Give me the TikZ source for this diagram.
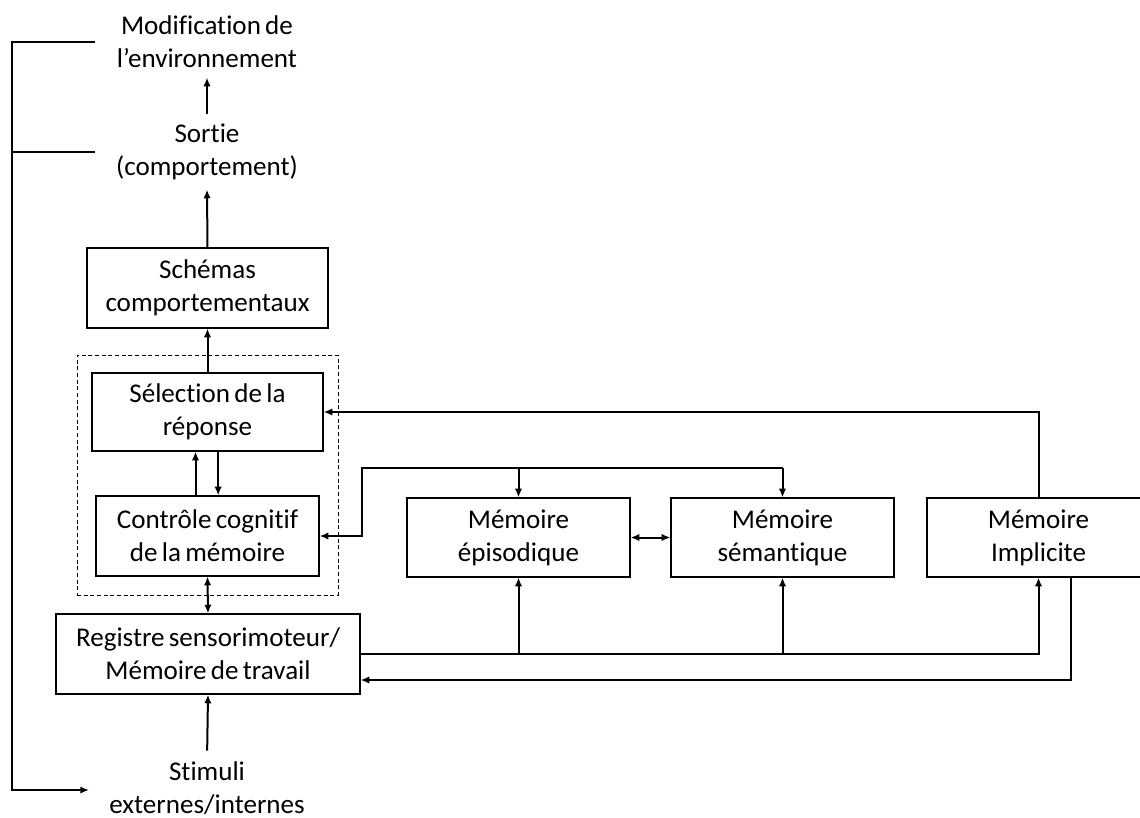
\documentclass[tikz,border=0pt]{standalone}
\usepackage{fontspec}
\setmainfont{Carlito}[Ligatures=NoCommon,WordSpace=0.7]
\usetikzlibrary{arrows.meta}
\newcommand\fsz{\fontsize{20.3}{24.75}\selectfont}
\begin{document}
\begin{tikzpicture}[x=0.75pt,y=-0.75pt,
  box/.style={draw,line width=0.9pt,inner sep=0pt,align=center,font=\fsz},
  lbl/.style={inner sep=7pt,align=center,font=\fsz},
  con/.style={line width=1.5pt},
  arr/.style={con,-{Latex[length=6.5pt,width=5.5pt]}},
  darr/.style={con,{Latex[length=6.5pt,width=5.5pt]}-{Latex[length=6.5pt,width=5.5pt]}}]
\useasboundingbox (0,0) rectangle (1140,818);

% text-only nodes
\node[lbl] (modif) at (207,42) {Modification de\\l’environnement};
\node[lbl] (sortie) at (207,152) {Sortie\\(comportement)};
\node[lbl,inner sep=0pt] (stim) at (207,788) {Stimuli\\externes/internes};

% boxes
\node[box,minimum width=241*0.75pt,minimum height=80*0.75pt] (schemas) at (207.5,288) {Schémas\\comportementaux};
\node[draw,dashed,dash pattern=on 3pt off 2pt,line width=0.7pt,inner sep=0pt,minimum width=261*0.75pt,minimum height=240*0.75pt] (grp) at (207.5,475) {};
\node[box,minimum width=231*0.75pt,minimum height=78*0.75pt] (select) at (207.5,412) {Sélection de la\\réponse};
\node[box,minimum width=223*0.75pt,minimum height=80*0.75pt] (ctrl) at (207.5,536) {Contrôle cognitif\\de la mémoire};
\node[box,minimum width=223*0.75pt,minimum height=79*0.75pt] (epi) at (518.5,537.5) {Mémoire\\épisodique};
\node[box,minimum width=223*0.75pt,minimum height=79*0.75pt] (sem) at (782.5,537.5) {Mémoire\\sémantique};
\node[box,minimum width=223*0.75pt,minimum height=79*0.75pt] (impl) at (1038.5,537.5) {Mémoire\\Implicite};
\node[box,minimum width=304*0.75pt,minimum height=80*0.75pt] (reg) at (208,654) {Registre sensorimoteur/\\Mémoire de travail};

% vertical flow
\draw[arr] (sortie.north) -- (modif.south);
\draw[arr] (schemas.north) -- (sortie.south);
\draw[arr] (select.north) -- (schemas.south);
\draw[arr] ([xshift=-9pt]ctrl.north) -- ([xshift=-9pt]select.south);
\draw[arr] ([xshift=8pt]select.south) -- ([xshift=8pt]ctrl.north);
\draw[darr] (ctrl.south) -- (reg.north);
\draw[arr,shorten <=8pt] (stim.north) -- (reg.south);

% implicit memory to response selection
\draw[arr] (impl.north) |- (select.east);

% top bus to control
\coordinate (b1) at (362,468);
\draw[arr] (sem.north |- b1) -- (b1) |- (ctrl.east);
\draw[arr] (epi.north |- b1) -- (epi.north);
\draw[arr] (sem.north |- b1) -- (sem.north);
\draw[darr] (epi.east) -- (sem.west);

% bottom bus from register
\draw[arr] (reg.east) -| (impl.south);
\draw[arr] (epi.south |- reg.east) -- (epi.south);
\draw[arr] (sem.south |- reg.east) -- (sem.south);
\draw[arr] ([xshift=24pt]impl.south) |- ([yshift=-19.5pt]reg.east);

% left feedback loop
\coordinate (l1) at (95,42);
\coordinate (l0) at (12,42);
\coordinate (l2) at (95,152);
\coordinate (l5) at (12,152);
\coordinate (l3) at (12,790);
\coordinate (l4) at (89,790);
\draw[arr] (l1) -- (l0) -- (l3) -- (l4);
\draw[con] (l2) -- (l5);
\end{tikzpicture}
\end{document}
